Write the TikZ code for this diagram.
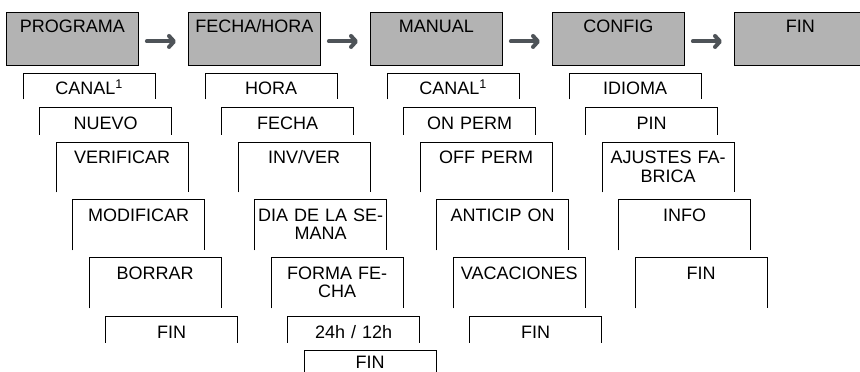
\documentclass[tikz,border=0pt]{standalone}
\usepackage{fontspec}
\setmainfont{Liberation Sans}
\usetikzlibrary{arrows.meta}
\definecolor{boxgray}{RGB}{179,179,179}
\definecolor{arrowgray}{RGB}{78,83,88}
\tikzset{
  mainbox/.style={draw=black, fill=boxgray, line width=0.9pt, anchor=north west,
    inner sep=0pt, text width=132pt, align=center, text height=20.5pt, text depth=32.5pt},
  subbox/.style={anchor=north west, inner sep=0pt, text width=132pt, align=center, text height=21.5pt},
  rowa/.style={subbox, text depth=4.5pt},
  rowb/.style={subbox, text depth=5.5pt},
  rowc/.style={subbox, text depth=28.5pt},
  rowd/.style={subbox, text depth=29pt},
  rowe/.style={subbox, text depth=29pt},
  rowf/.style={subbox, text depth=4.5pt},
  rowg/.style={subbox, text height=18pt, text depth=3.5pt},
  frame/.style={draw=black, line width=0.9pt},
  flow/.style={draw=arrowgray, line width=4pt, line cap=round,
    -{Straight Barb[length=5pt, width=11pt, round]}, shorten <=8pt, shorten >=12pt}
}
\begin{document}
\begin{tikzpicture}[x=1pt, y=-1pt, font=\fontsize{18}{18.5}\selectfont]
\useasboundingbox (0,0) rectangle (860,372);
\clip (0,0) rectangle (860,372);
% top row
\node[mainbox] (p1) at (6,12) {PROGRAMA};
\node[mainbox] (p2) at (188,12) {FECHA/HORA};
\node[mainbox] (p3) at (370,12) {MANUAL};
\node[mainbox] (p4) at (552,12) {CONFIG};
\node[mainbox] (p5) at (734,12) {FIN};
\foreach \a/\b in {p1/p2, p2/p3, p3/p4, p4/p5}
  \draw[flow] ([yshift=-2.5pt]\a.east) -- ([yshift=-2.5pt]\b.west);
% column 1
\node[rowa] (a1) at (23,73) {CANAL\textsuperscript{1}};
\node[rowb] (a2) at (39.5,107.5) {NUEVO};
\node[rowc] (a3) at (56,142) {VERIFICAR};
\node[rowd] (a4) at (72.5,199.5) {MODIFICAR};
\node[rowe] (a5) at (89,257.5) {BORRAR};
\node[rowf] (a6) at (105.5,316.5) {FIN};
% column 2
\node[rowa] (b1) at (205,73) {HORA};
\node[rowb] (b2) at (221.5,107.5) {FECHA};
\node[rowc] (b3) at (238,142) {INV/VER};
\node[rowd] (b4) at (254.5,199.5) {DIA DE LA SE-\\MANA};
\node[rowe] (b5) at (271,257.5) {FORMA FE-\\CHA};
\node[rowf] (b6) at (287.5,316.5) {24h / 12h};
\node[rowg] (b7) at (304,350.5) {FIN};
% column 3
\node[rowa] (c1) at (387,73) {CANAL\textsuperscript{1}};
\node[rowb] (c2) at (403.5,107.5) {ON PERM};
\node[rowc] (c3) at (420,142) {OFF PERM};
\node[rowd] (c4) at (436.5,199.5) {ANTICIP ON};
\node[rowe] (c5) at (453,257.5) {VACACIONES};
\node[rowf] (c6) at (469.5,316.5) {FIN};
% column 4
\node[rowa] (d1) at (569,73) {IDIOMA};
\node[rowb] (d2) at (585.5,107.5) {PIN};
\node[rowc] (d3) at (602,142) {AJUSTES FA-\\BRICA};
\node[rowd] (d4) at (618.5,199.5) {INFO};
\node[rowe] (d5) at (635,257.5) {FIN};
% open frames
\foreach \n in {a1,a2,a3,a4,a5,a6,b1,b2,b3,b4,b5,b6,b7,c1,c2,c3,c4,c5,c6,d1,d2,d3,d4,d5}
  \draw[frame] (\n.south west) |- (\n.north east) -- (\n.south east);
\end{tikzpicture}
\end{document}
